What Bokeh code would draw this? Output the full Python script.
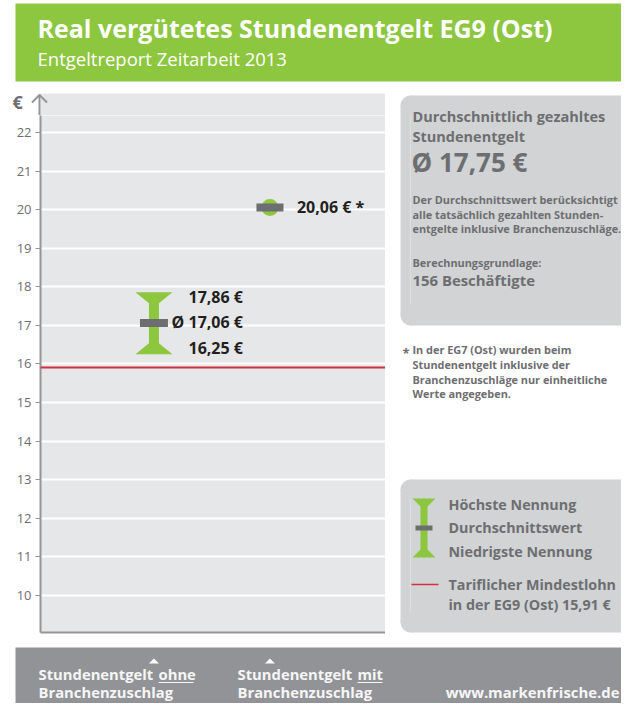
from bokeh.plotting import figure
from bokeh.layouts import column, row
from bokeh.models import Range1d, Span, FixedTicker
from bokeh.core.properties import value
from bokeh.embed import file_html
from bokeh.resources import INLINE

# ---------------- data ----------------
categories = ["Stundenentgelt ohne Branchenzuschlag", "Stundenentgelt mit Branchenzuschlag"]
cat_pos = [1, 2]
range_high = [17.86]          # Höchste Nennung (ohne Branchenzuschlag)
range_mean = [17.06]          # Durchschnittswert
range_low = [16.25]           # Niedrigste Nennung
single_value = [20.06]        # mit Branchenzuschlag (nur einheitliche Werte)
min_wage = 15.91              # Tariflicher Mindestlohn EG9 (Ost)
overall_avg = 17.75
employees = 156
y_ticks = [10, 11, 12, 13, 14, 15, 16, 17, 18, 19, 20, 21, 22]

# ---------------- style ----------------
FONT = "Open Sans"
GREEN = "#8dc63f"
DARKGRAY = "#6d6e71"
TEXT = "#231f20"
PLOTBG = "#e6e7e8"
BOXBG = "#d1d3d4"
FOOTER = "#929397"
RED = "#d0333f"
AXIS = "#939598"
FOOT_TXT = "#f6f6f6"

W, H = 621, 703
HDR_H = 85           # green header strip
TOPS_H = 30          # strip with unit label and axis arrow (85..115)
CH_TOP = HDR_H + TOPS_H
MID_B = 640          # bottom of chart row
CHART_W = 385
XR = (0.022, 2.996)  # category axis range
YR = (9.03, 22.449)  # value axis range
PPU_X = 345 / (XR[1] - XR[0])
PPU_Y = (632 - CH_TOP) / (YR[1] - YR[0])


def fmt(v):
    return f"{v:.2f}".replace(".", ",") + " €"


def blank(width, height, x_range, y_range):
    f = figure(width=width, height=height, x_range=x_range, y_range=y_range,
               output_backend="svg", toolbar_location=None, frame_align=False,
               x_axis_location=None, y_axis_location=None, min_border=0)
    f.grid.grid_line_color = None
    f.outline_line_color = None
    f.background_fill_color = "white"
    f.border_fill_color = "white"
    return f


def txt(f, x, y, s, size, color, bold=True, align="left"):
    # y is the wanted alphabetic baseline (pixels, top-down)
    f.text(x=[x], y=[y - 0.39 * size], text=[s], text_font=value(FONT),
           text_font_size=f"{size}px",
           text_font_style="bold" if bold else "normal", text_color=color,
           text_align=align, text_baseline="middle")


def rounded_left_box(f, l, r, t, b, rad, color=BOXBG):
    f.quad(left=[l + rad], right=[r], top=[t], bottom=[b], fill_color=color, line_color=None)
    f.quad(left=[l], right=[l + rad], top=[t + rad], bottom=[b - rad], fill_color=color, line_color=None)
    f.circle(x=[l + rad, l + rad], y=[t + rad, b - rad], radius=rad, fill_color=color, line_color=None)


# ================= green header =================
hdr = blank(W, HDR_H, Range1d(0, W), Range1d(HDR_H, 0))
hdr.quad(left=[15], right=[W + 5], top=[3], bottom=[81], fill_color=GREEN, line_color=None)
txt(hdr, 37, 37, "Real vergütetes Stundenentgelt EG9 (Ost)", 25, "white")
txt(hdr, 37, 65, "Entgeltreport Zeitarbeit 2013", 18.5, "white", bold=False)

# ================= strip above the chart: unit + axis arrow =================
tops = blank(CHART_W, TOPS_H, Range1d(0, CHART_W), Range1d(CH_TOP, HDR_H))
tops.quad(left=[40], right=[CHART_W], top=[93], bottom=[CH_TOP + 1], fill_color=PLOTBG, line_color=None)
tops.segment(x0=[39], y0=[94], x1=[39], y1=[CH_TOP + 1], line_color=AXIS, line_width=2)
tops.line(x=[31.5, 39, 46.5], y=[102, 94.5, 102], line_color=AXIS, line_width=2)
txt(tops, 12, 109, "€", 18, DARKGRAY)

# ================= chart =================
p = figure(width=CHART_W, height=MID_B - CH_TOP, output_backend="svg", toolbar_location=None,
           x_range=Range1d(*XR), y_range=Range1d(*YR), frame_align=False,
           min_border_left=40, min_border_right=0, min_border_top=0,
           min_border_bottom=MID_B - 632)
p.background_fill_color = PLOTBG
p.border_fill_color = "white"
p.outline_line_color = None

p.yaxis.ticker = FixedTicker(ticks=y_ticks)
p.yaxis.major_label_text_font = FONT
p.yaxis.major_label_text_font_size = "13px"
p.yaxis.major_label_text_color = DARKGRAY
p.yaxis.axis_line_color = AXIS
p.yaxis.axis_line_width = 2
p.yaxis.major_tick_line_color = AXIS
p.yaxis.major_tick_out = 5
p.yaxis.major_tick_in = 0
p.yaxis.minor_tick_line_color = None
p.yaxis.major_label_standoff = 4

p.xaxis.ticker = FixedTicker(ticks=[])
p.xaxis.major_label_text_font_size = "0px"
p.xaxis.major_label_standoff = 0
p.xaxis.axis_line_color = AXIS
p.xaxis.axis_line_width = 2
p.xaxis.major_tick_out = 0
p.xaxis.major_tick_line_color = None
p.xaxis.minor_tick_line_color = None

p.xgrid.grid_line_color = None
p.ygrid.ticker = FixedTicker(ticks=y_ticks)
p.ygrid.grid_line_color = "white"
p.ygrid.grid_line_width = 2

p.add_layout(Span(location=min_wage, dimension="width", line_color=RED, line_width=2))

hw, sw, th = 18.5 / PPU_X, 5.0 / PPU_X, 11.0 / PPU_Y
xs, ys = [], []
for x, hi, lo in zip(cat_pos[:1], range_high, range_low):
    xs.append([x - hw, x + hw, x + sw, x + sw, x + hw, x - hw, x - sw, x - sw])
    ys.append([hi, hi, hi - th, lo + th, lo, lo, lo + th, hi - th])
p.patches(xs=xs, ys=ys, fill_color=GREEN, line_color=None)
p.rect(x=cat_pos[:1], y=range_mean, width=28, height=8, width_units="screen",
       height_units="screen", fill_color=DARKGRAY, line_color=None)

p.scatter(x=cat_pos[1:], y=single_value, size=17, marker="circle",
          fill_color=GREEN, line_color=None)
p.rect(x=cat_pos[1:], y=single_value, width=27, height=8, width_units="screen",
       height_units="screen", fill_color=DARKGRAY, line_color=None)

lab_kw = dict(text_font=value(FONT), text_font_size="16px", text_font_style="bold",
              text_color=TEXT, text_baseline="middle")
p.text(x=cat_pos[:1], y=range_high, text=[fmt(v) for v in range_high], x_offset=89,
       y_offset=5, text_align="right", **lab_kw)
p.text(x=cat_pos[:1], y=range_mean, text=["Ø " + fmt(v) for v in range_mean], x_offset=89,
       y_offset=-1, text_align="right", **lab_kw)
p.text(x=cat_pos[:1], y=range_low, text=[fmt(v) for v in range_low], x_offset=89,
       y_offset=-6.5, text_align="right", **lab_kw)
p.text(x=cat_pos[1:], y=single_value, text=[fmt(v) + " *" for v in single_value],
       x_offset=27, y_offset=-1, text_align="left", **lab_kw)

# ================= right column =================
rc = blank(W - CHART_W, MID_B - HDR_H, Range1d(CHART_W, W), Range1d(MID_B, HDR_H))
rounded_left_box(rc, 400, W + 15, 95, 325, 10)
txt(rc, 412, 122, "Durchschnittlich gezahltes", 14.5, DARKGRAY)
txt(rc, 412, 142, "Stundenentgelt", 14.5, DARKGRAY)
txt(rc, 411, 172, "Ø " + f"{overall_avg:.2f}".replace(".", ",") + " €", 26, DARKGRAY)
SM = 10.9
txt(rc, 412, 203, "Der Durchschnittswert berücksichtigt", SM, DARKGRAY)
txt(rc, 412, 218, "alle tatsächlich gezahlten Stunden-", SM, DARKGRAY)
txt(rc, 412, 232, "entgelte inklusive Branchenzuschläge.", SM, DARKGRAY)
txt(rc, 412, 266, "Berechnungsgrundlage:", SM, DARKGRAY)
txt(rc, 412, 285, f"{employees} Beschäftigte", 14.9, DARKGRAY)

txt(rc, 402, 358, "*", 13, DARKGRAY)
txt(rc, 412, 353, "In der EG7 (Ost) wurden beim", SM, DARKGRAY)
txt(rc, 412, 368, "Stundenentgelt inklusive der", SM, DARKGRAY)
txt(rc, 412, 383, "Branchenzuschläge nur einheitliche", SM, DARKGRAY)
txt(rc, 412, 397, "Werte angegeben.", SM, DARKGRAY)

rounded_left_box(rc, 400, W + 15, 479, 632, 10)
icx = 423.5
rc.patches(xs=[[icx - 11.5, icx + 11.5, icx + 3.5, icx + 3.5, icx + 11.5, icx - 11.5, icx - 3.5, icx - 3.5]],
           ys=[[498, 498, 506, 549, 557, 557, 549, 506]], fill_color=GREEN, line_color=None)
rc.quad(left=[415], right=[432], top=[525], bottom=[530], fill_color=DARKGRAY, line_color=None)
LG = 14.3
txt(rc, 448, 510, "Höchste Nennung", LG, DARKGRAY)
txt(rc, 448, 533, "Durchschnittswert", LG, DARKGRAY)
txt(rc, 448, 557, "Niedrigste Nennung", LG, DARKGRAY)
rc.segment(x0=[411], y0=[584], x1=[438], y1=[584], line_color=RED, line_width=1.5)
txt(rc, 448, 590, "Tariflicher Mindestlohn", LG, DARKGRAY)
txt(rc, 448, 610, "in der EG9 (Ost) " + fmt(min_wage), LG, DARKGRAY)

# ================= footer =================
fx0 = XR[0] - 40 / PPU_X


def fx(px):
    return fx0 + px / PPU_X


ft = blank(W, H - MID_B, Range1d(fx0, fx(W)), Range1d(H, MID_B))
ft.quad(left=[fx(15)], right=[fx(W + 5)], top=[647], bottom=[H + 5], fill_color=FOOTER, line_color=None)
d = 5.0 / PPU_X
ft.patches(xs=[[x - d, x, x + d] for x in cat_pos], ys=[[663, 658, 663] for _ in cat_pos],
           fill_color="white", line_color=None)
FS = 14.8
txt(ft, fx(38), 679, "Stundenentgelt", FS, FOOT_TXT)
txt(ft, fx(158), 679, "ohne", FS, FOOT_TXT)
ft.segment(x0=[fx(158)], y0=[682], x1=[fx(193)], y1=[682], line_color=FOOT_TXT, line_width=1)
txt(ft, fx(38), 697.5, "Branchenzuschlag", FS, FOOT_TXT)
txt(ft, fx(237), 679, "Stundenentgelt", FS, FOOT_TXT)
txt(ft, fx(357), 679, "mit", FS, FOOT_TXT)
ft.segment(x0=[fx(357)], y0=[682], x1=[fx(382)], y1=[682], line_color=FOOT_TXT, line_width=1)
txt(ft, fx(237), 697.5, "Branchenzuschlag", FS, FOOT_TXT)
txt(ft, fx(619), 697.5, "www.markenfrische.de", 14.9, FOOT_TXT, align="right")

layout = column(hdr, row(column(tops, p, spacing=0), rc, spacing=0), ft, spacing=0)
open("out.html", "w").write(file_html(layout, INLINE))
